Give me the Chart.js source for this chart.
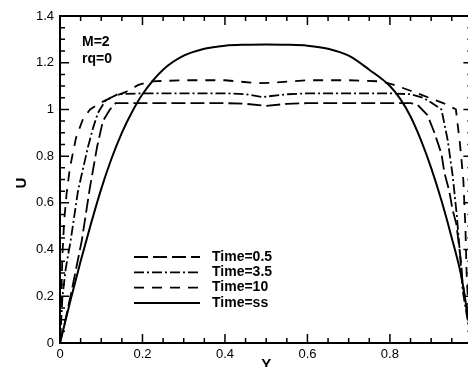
<!DOCTYPE html>
<html>
<head>
<meta charset="utf-8">
<script src="https://cdn.jsdelivr.net/npm/chart.js@4"></script>
<style>
  html, body { margin: 0; padding: 0; background: #fff; overflow: hidden; }
  #wrap { width: 468px; height: 367px; overflow: hidden; }
</style>
</head>
<body>
<div id="wrap"><canvas id="chart" width="480" height="367"></canvas></div>
<script>
// values: Y position and velocity U for each time
const t05Y = [0, 0.012, 0.029, 0.053, 0.072, 0.09, 0.104, 0.121, 0.135, 0.2, 0.3, 0.4, 0.45, 0.5, 0.55, 0.6, 0.7, 0.8, 0.85, 0.867, 0.891, 0.908, 0.925, 0.932, 0.944, 0.952, 0.961, 0.973, 0.976, 0.99, 1];
const t05U = [0, 0.09, 0.23, 0.44, 0.66, 0.84, 0.95, 1.0, 1.027, 1.027, 1.027, 1.027, 1.024, 1.015, 1.024, 1.027, 1.027, 1.027, 1.027, 1.02, 0.976, 0.9, 0.81, 0.73, 0.65, 0.57, 0.51, 0.34, 0.26, 0.1, 0];

const t35Y = [0, 0.006, 0.014, 0.026, 0.044, 0.068, 0.08, 0.092, 0.111, 0.14, 0.2, 0.3, 0.4, 0.45, 0.49, 0.55, 0.6, 0.7, 0.8, 0.85, 0.88, 0.9, 0.925, 0.94, 0.952, 0.962, 0.97, 0.976, 0.99, 1];
const t35U = [0, 0.2, 0.32, 0.44, 0.655, 0.84, 0.92, 0.985, 1.04, 1.065, 1.069, 1.069, 1.069, 1.065, 1.053, 1.065, 1.069, 1.069, 1.069, 1.065, 1.05, 1.03, 1.0, 0.87, 0.72, 0.55, 0.38, 0.23, 0.08, 0];

const t10Y = [0, 0.003, 0.006, 0.01, 0.016, 0.024, 0.039, 0.056, 0.073, 0.1, 0.13, 0.16, 0.19, 0.22, 0.3, 0.4, 0.48, 0.52, 0.6, 0.7, 0.78, 0.81, 0.85, 0.88, 0.91, 0.94, 0.96, 0.97, 0.978, 0.983, 0.986, 0.99, 1];
const t10U = [0, 0.2, 0.38, 0.52, 0.64, 0.75, 0.88, 0.96, 1.0, 1.03, 1.055, 1.075, 1.105, 1.12, 1.125, 1.125, 1.112, 1.115, 1.125, 1.125, 1.12, 1.105, 1.08, 1.06, 1.04, 1.02, 1.0, 0.85, 0.7, 0.5, 0.3, 0.15, 0];

const ssY = [0, 0.025, 0.05, 0.075, 0.1, 0.125, 0.15, 0.175, 0.2, 0.25, 0.3, 0.35, 0.4, 0.45, 0.5, 0.55, 0.6, 0.65, 0.7, 0.75, 0.8, 0.825, 0.85, 0.875, 0.9, 0.925, 0.95, 0.975, 0.985, 1];
const ssU = [0, 0.18, 0.35, 0.51, 0.66, 0.79, 0.9, 0.99, 1.065, 1.17, 1.23, 1.26, 1.273, 1.277, 1.278, 1.277, 1.273, 1.26, 1.23, 1.17, 1.1, 1.045, 0.97, 0.87, 0.75, 0.61, 0.45, 0.27, 0.16, 0];

const labels = ['Time=0.5', 'Time=3.5', 'Time=10', 'Time=ss'];
const dashes = [[14, 5], [10, 3, 2, 3], [10, 8], []];
const xTicks = [0, 0.2, 0.4, 0.6, 0.8, 1];
const yTicks = [0, 0.2, 0.4, 0.6, 0.8, 1, 1.2, 1.4];
const notes = ['M=2', 'rq=0'];

const pts = (xs, us) => xs.map((v, i) => ({ x: v, y: us[i] }));
const series = [pts(t05Y, t05U), pts(t35Y, t35U), pts(t10Y, t10U), pts(ssY, ssU)];

const font = '"Liberation Sans", Arial, sans-serif';
const fmt = v => String(+v.toFixed(1));

// box, inward ticks, legend and labels drawn like the original plot
const frame = {
    id: 'frame',
    afterDatasetsDraw(chart) {
        const { ctx, chartArea: a, scales: { x, y } } = chart;
        ctx.save();
        ctx.strokeStyle = '#000';
        ctx.fillStyle = '#000';
        ctx.lineWidth = 1.5;
        for (let i = 0; i <= 20; i++) {
            const len = i % 4 === 0 ? 9 : 5;
            const px = x.getPixelForValue(i * 0.05);
            ctx.beginPath();
            ctx.moveTo(px, a.bottom); ctx.lineTo(px, a.bottom - len);
            ctx.moveTo(px, a.top); ctx.lineTo(px, a.top + len);
            ctx.stroke();
        }
        for (let i = 0; i <= 28; i++) {
            const len = i % 4 === 0 ? 9 : 5;
            const py = y.getPixelForValue(i * 0.05);
            ctx.beginPath();
            ctx.moveTo(a.left, py); ctx.lineTo(a.left + len, py);
            ctx.moveTo(a.right, py); ctx.lineTo(a.right - len, py);
            ctx.stroke();
        }
        ctx.lineWidth = 2;
        ctx.strokeRect(a.left, a.top, a.right - a.left, a.bottom - a.top);

        // legend
        ctx.font = 'bold 14px ' + font;
        ctx.textBaseline = 'middle';
        ctx.textAlign = 'left';
        chart.data.datasets.forEach((ds, i) => {
            const ly = 257 + i * 15.3;
            ctx.setLineDash(ds.borderDash || []);
            ctx.lineWidth = ds.borderWidth;
            ctx.beginPath();
            ctx.moveTo(134, ly); ctx.lineTo(200, ly);
            ctx.stroke();
            ctx.setLineDash([]);
            ctx.fillText(ds.label, 212, ly);
        });

        // parameters
        ctx.font = 'bold 14px ' + font;
        ctx.fillText(notes[0], 82, 42);
        ctx.fillText(notes[1], 82, 59);

        // axis titles
        ctx.font = 'bold 15px ' + font;
        ctx.textAlign = 'center';
        ctx.fillText('Y', x.getPixelForValue(0.5), 365);
        ctx.translate(22, 183);
        ctx.rotate(-Math.PI / 2);
        ctx.fillText('U', 0, 0);
        ctx.restore();
    }
};

const ctx = document.getElementById('chart').getContext('2d');
new Chart(ctx, {
    type: 'line',
    data: {
        datasets: series.map((d, i) => ({
            label: labels[i],
            data: d,
            borderColor: '#000',
            borderWidth: i === 3 ? 2 : 1.8,
            borderDash: dashes[i],
            pointRadius: 0,
            tension: 0,
            cubicInterpolationMode: i === 3 ? 'monotone' : 'default',
            fill: false
        }))
    },
    options: {
        responsive: false,
        animation: false,
        devicePixelRatio: 1,
        layout: { padding: { top: 16, right: 6, left: 0, bottom: 0 } },
        plugins: { legend: { display: false }, tooltip: { enabled: false } },
        scales: {
            x: {
                type: 'linear',
                min: 0,
                max: 1,
                afterBuildTicks: s => { s.ticks = xTicks.map(v => ({ value: v })); },
                afterFit: s => { s.height = 24; },
                grid: { display: false, drawTicks: false },
                border: { display: false },
                ticks: { color: '#000', padding: 4, maxRotation: 0, callback: fmt, font: { family: font, size: 13 } }
            },
            y: {
                min: 0,
                max: 1.4,
                afterBuildTicks: s => { s.ticks = yTicks.map(v => ({ value: v })); },
                afterFit: s => { s.width = 60; },
                grid: { display: false, drawTicks: false },
                border: { display: false },
                ticks: { color: '#000', padding: 6, callback: fmt, font: { family: font, size: 13 } }
            }
        }
    },
    plugins: [frame]
});
</script>
</body>
</html>
